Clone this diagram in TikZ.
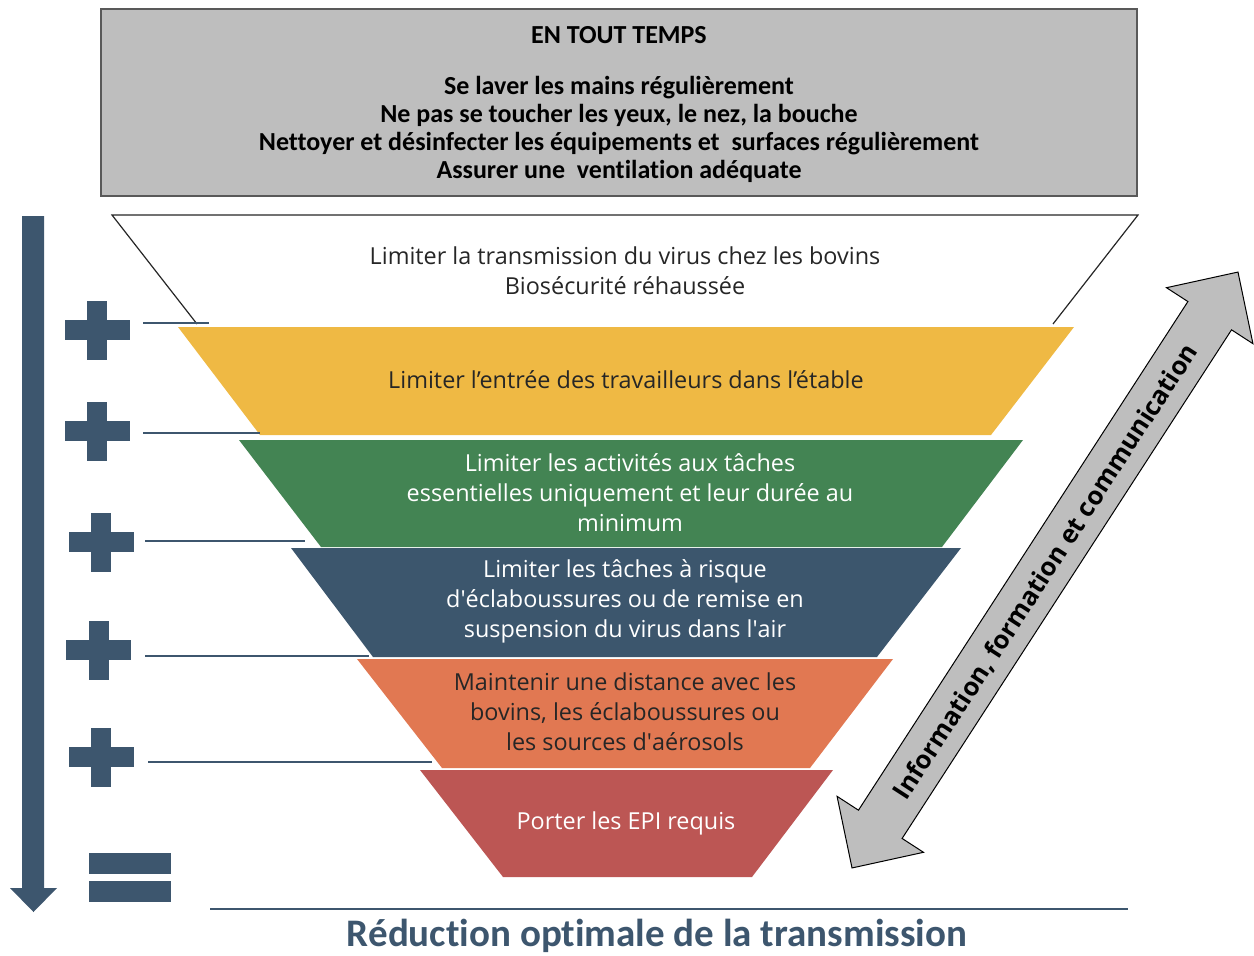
\documentclass[tikz,border=0pt]{standalone}
\usepackage{fontspec}
\setmainfont{Open Sans}
\newfontfamily\calfont[Ligatures=NoCommon]{Carlito}
\definecolor{navyc}{HTML}{3D566E}
\definecolor{boxgray}{HTML}{BEBEBE}
\definecolor{boxedge}{HTML}{595959}
\definecolor{layyellow}{HTML}{EFB944}
\definecolor{laygreen}{HTML}{438453}
\definecolor{laynavy}{HTML}{3C566D}
\definecolor{layorange}{HTML}{E17852}
\definecolor{layred}{HTML}{BC5654}
\definecolor{inkdark}{HTML}{262626}
\begin{document}
\begin{tikzpicture}[x=1pt,y=-1pt,
  every node/.style={inner sep=0pt, outer sep=0pt},
  boxtext/.style={font=\calfont\bfseries\fontsize{26}{28}\selectfont, align=center, text=black},
  layertext/.style={font=\fontsize{23.4}{30}\selectfont, align=center},
  titletext/.style={font=\calfont\bfseries\fontsize{39}{44}\selectfont, text=navyc},
  arrowtext/.style={font=\bfseries\fontsize{25.5}{28}\selectfont, text=black},
  link/.style={draw=navyc, line width=2.5pt},
  plussign/.pic={
    \fill[navyc] (-32.5,-10) rectangle (32.5,10);
    \fill[navyc] (-10,-29.5) rectangle (10,29.5);
  },
  equalsign/.pic={
    \fill[navyc] (-41,-24.5) rectangle (41,-3.5);
    \fill[navyc] (-41,4) rectangle (41,25);
  },
]
\useasboundingbox (0,0) rectangle (1254,956);

% box of measures that apply at all times
\node[draw=boxedge, fill=boxgray, line width=1.2pt, minimum width=1036pt,
      minimum height=187pt, anchor=north west] (always) at (101,9) {};
\node[boxtext] (alwayshead) at (619,35) {EN TOUT TEMPS};
\node[boxtext] (alwayslist) at (619,129) {Se laver les mains régulièrement\\
  Ne pas se toucher les yeux, le nez, la bouche\\
  Nettoyer et désinfecter les équipements et~ surfaces régulièrement\\
  Assurer une~ ventilation adéquate};

% funnel layers
\draw[draw=inkdark, line width=1.2pt, fill=white] (197,324) -- (112,215) -- (1138,215) -- (1053,324);
\node[layertext, text=inkdark] (lay0) at (625,271) {Limiter la transmission du virus chez les bovins\\Biosécurité réhaussée};

\fill[layyellow] (178,327) -- (1074,327) -- (991,435) -- (260,435) -- cycle;
\node[layertext, text=inkdark] (lay1) at (626,380) {Limiter l’entrée des travailleurs dans l’étable};

\fill[laygreen] (239,440) -- (1023,440) -- (942,547) -- (321,547) -- cycle;
\node[layertext, text=white] (lay2) at (630,493) {Limiter les activités aux tâches\\essentielles uniquement et leur durée au\\minimum};

\fill[laynavy] (291,548) -- (961,548) -- (877,657) -- (373,657) -- cycle;
\node[layertext, text=white] (lay3) at (625,601) {Limiter les tâches à risque\\d\textquotesingle éclaboussures ou de remise en\\suspension du virus dans l\textquotesingle air};

\fill[layorange] (357,659) -- (893,659) -- (810,768) -- (442,768) -- cycle;
\node[layertext, text=inkdark] (lay4) at (625,712) {Maintenir une distance avec les\\bovins, les éclaboussures ou\\les sources d\textquotesingle aérosols};

\fill[layred] (420,770) -- (833,770) -- (752,877) -- (503,877) -- cycle;
\node[layertext, text=white] (lay5) at (626,823) {Porter les EPI requis};

% descending arrow on the left
\fill[navyc] (22,216) -- (44,216) -- (44,888) -- (57,888) -- (33.5,912) -- (10,888) -- (22,888) -- cycle;

% plus signs and the equals sign
\pic at (97,330) {plussign};
\pic at (97,431) {plussign};
\pic at (101,542) {plussign};
\pic at (98.5,650) {plussign};
\pic at (101,757) {plussign};
\pic at (130,877) {equalsign};

% leader lines from the signs to the layers
\coordinate (s1) at (143,323); \coordinate (e1) at (209,323);
\coordinate (s2) at (143,433); \coordinate (e2) at (260,433);
\coordinate (s3) at (145,541); \coordinate (e3) at (305,541);
\coordinate (s4) at (145,656); \coordinate (e4) at (369,656);
\coordinate (s5) at (148,762); \coordinate (e5) at (432,762);
\draw[link] (s1) -- (e1);
\draw[link] (s2) -- (e2);
\draw[link] (s3) -- (e3);
\draw[link] (s4) -- (e4);
\draw[link] (s5) -- (e5);

% result line and caption
\coordinate (rl) at (210,909); \coordinate (rr) at (1128,909);
\draw[link] (rl) -- (rr);
\node[titletext] (result) at (657,936) {Réduction optimale de la transmission};

% two-way arrow along the right side
\begin{scope}[shift={(1045,570)}, rotate=57.07]
  \draw[fill=boxgray, draw=black, line width=1pt, line join=miter]
    (355,0) -- (303,51.5) -- (303,26) -- (-303,26) -- (-303,51.5) -- (-355,0)
    -- (-303,-51.5) -- (-303,-26) -- (303,-26) -- (303,-51.5) -- cycle;
\end{scope}
\node[arrowtext, rotate=57.07] (info) at (1046,572) {Information, formation et communication};

\end{tikzpicture}
\end{document}
